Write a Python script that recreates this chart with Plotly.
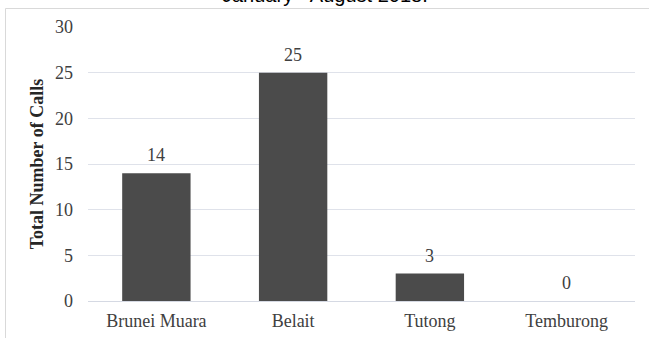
import plotly.graph_objects as go

categories = ["Brunei Muara", "Belait", "Tutong", "Temburong"]
calls = [14, 25, 3, 0]
y_ticks = [0, 5, 10, 15, 20, 25, 30]
title_text = "January - August 2018."
y_title = "Total Number of Calls"

W, H = 649, 338
L, R, T, B = 88, 14, 27, 37
pw, ph = W - L - R, H - T - B

def px_x(x):
    return (x - L) / pw

def px_y(y):
    return (H - B - y) / ph

FS = 18
fig = go.Figure()
fig.add_trace(go.Bar(
    x=categories, y=calls,
    marker=dict(color="#4b4b4b", line=dict(width=0)),
    cliponaxis=False,
))

annotations = [dict(
    x=c, y=v, xref="x", yref="y", text=str(v),
    xanchor="center", yanchor="bottom", yshift=6, showarrow=False,
    font=dict(family="Liberation Serif", size=FS, color="#404040"),
) for c, v in zip(categories, calls)]

annotations.append(dict(
    text=title_text, xref="paper", yref="paper",
    x=px_x(325), y=px_y(8), xanchor="center", yanchor="bottom",
    showarrow=False,
    font=dict(family="Liberation Sans", size=20, color="#000000"),
))

fig.update_layout(
    width=W, height=H,
    margin=dict(l=L, r=R, t=T, b=B, autoexpand=False),
    paper_bgcolor="white", plot_bgcolor="white",
    bargap=0.5,
    showlegend=False,
    font=dict(family="Liberation Serif", size=FS, color="#404040"),
    xaxis=dict(
        showgrid=False, showline=False, ticks="", automargin=False,
        tickfont=dict(family="Liberation Serif", size=FS, color="#404040"),
        ticklabelstandoff=7,
    ),
    yaxis=dict(
        range=[0, 30], tickvals=y_ticks, automargin=False,
        showgrid=True, gridcolor="#dfe2ea", gridwidth=1,
        zeroline=True, zerolinecolor="#d5d9e3", zerolinewidth=1,
        showline=False, ticks="",
        tickfont=dict(family="Liberation Serif", size=FS, color="#404040"),
        ticklabelstandoff=14,
        title=dict(text="<b>" + y_title + "</b>",
                   font=dict(family="Liberation Serif", size=FS, color="#262626"),
                   standoff=6),
    ),
    shapes=[dict(
        type="path", xref="paper", yref="paper",
        path=f"M {px_x(5.5)} {px_y(H+5)} L {px_x(5.5)} {px_y(8.5)} L {px_x(W+5)} {px_y(8.5)}",
        line=dict(color="#d9d9d9", width=1),
    )],
    annotations=annotations,
)

fig.write_html("out.html")
